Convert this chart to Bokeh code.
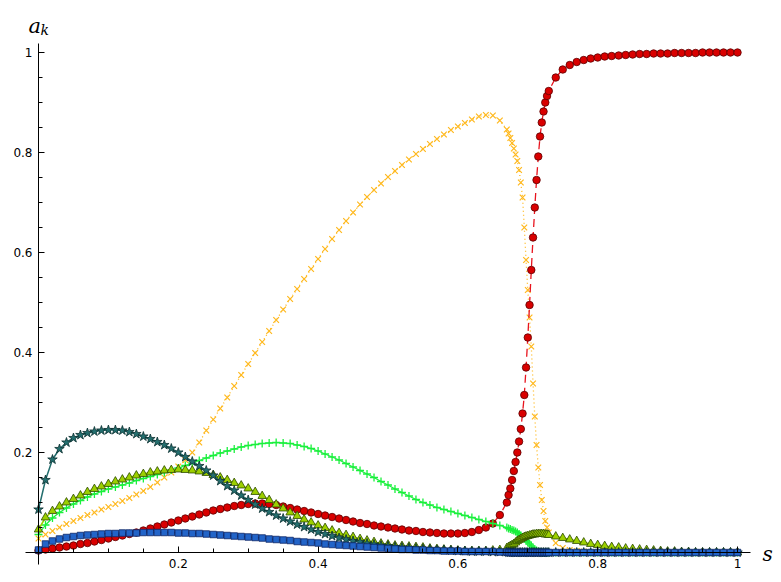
from bokeh.plotting import figure
from bokeh.models import LinearAxis, FixedTicker, NumeralTickFormatter, Range1d, Label
from bokeh.embed import file_html
from bokeh.resources import INLINE

# ---- s grid (x values) ----
s_a = [0.00, 0.01, 0.02, 0.03, 0.04, 0.05, 0.06, 0.07, 0.08, 0.09,
       0.10, 0.11, 0.12, 0.13, 0.14, 0.15, 0.16, 0.17, 0.18, 0.19,
       0.20, 0.21, 0.22, 0.23, 0.24, 0.25, 0.26, 0.27, 0.28, 0.29,
       0.30, 0.31, 0.32, 0.33, 0.34, 0.35, 0.36, 0.37, 0.38, 0.39,
       0.40, 0.41, 0.42, 0.43, 0.44, 0.45, 0.46, 0.47, 0.48, 0.49,
       0.50, 0.51, 0.52, 0.53, 0.54, 0.55, 0.56, 0.57, 0.58, 0.59,
       0.60, 0.61, 0.62, 0.63, 0.64, 0.65, 0.66, 0.67]
s_b = [0.6725, 0.675, 0.6775, 0.68, 0.6825, 0.685, 0.6875, 0.69, 0.6925, 0.695,
       0.6975, 0.70, 0.7025, 0.705, 0.7075, 0.71, 0.7125, 0.715, 0.7175, 0.72,
       0.7225, 0.725, 0.7275]
s_c = [0.73, 0.74, 0.75, 0.76, 0.77, 0.78, 0.79, 0.80, 0.81, 0.82,
       0.83, 0.84, 0.85, 0.86, 0.87, 0.88, 0.89, 0.90, 0.91, 0.92,
       0.93, 0.94, 0.95, 0.96, 0.97, 0.98, 0.99, 1.00]

# ---- series values ----
red_a = [0.004, 0.006, 0.008, 0.010, 0.012, 0.014, 0.017, 0.019, 0.022, 0.025,
         0.028, 0.031, 0.034, 0.037, 0.040, 0.044, 0.048, 0.052, 0.056, 0.060,
         0.064, 0.068, 0.072, 0.076, 0.080, 0.084, 0.087, 0.090, 0.093, 0.095,
         0.097, 0.098, 0.098, 0.097, 0.095, 0.092, 0.089, 0.086, 0.083, 0.080,
         0.077, 0.074, 0.071, 0.068, 0.065, 0.062, 0.059, 0.057, 0.054, 0.052,
         0.050, 0.048, 0.046, 0.044, 0.043, 0.041, 0.040, 0.039, 0.038, 0.038,
         0.038, 0.039, 0.041, 0.045, 0.050, 0.058, 0.075, 0.100]
red_b = [0.115, 0.128, 0.145, 0.163, 0.181, 0.200, 0.222, 0.247, 0.278, 0.315,
         0.370, 0.430, 0.495, 0.565, 0.630, 0.690, 0.745, 0.792, 0.832, 0.860,
         0.882, 0.900, 0.913]
red_c = [0.923, 0.950, 0.966, 0.975, 0.981, 0.985, 0.988, 0.990, 0.992, 0.993,
         0.994, 0.995, 0.996, 0.997, 0.997, 0.998, 0.998, 0.998, 0.999, 0.999,
         0.999, 0.999, 1.000, 1.000, 1.000, 1.000, 1.000, 1.000]

orange_a = [0.028, 0.036, 0.043, 0.050, 0.057, 0.063, 0.069, 0.075, 0.080, 0.086,
            0.091, 0.097, 0.103, 0.109, 0.116, 0.123, 0.131, 0.140, 0.150, 0.160,
            0.172, 0.185, 0.200, 0.220, 0.244, 0.266, 0.288, 0.310, 0.333, 0.355,
            0.377, 0.399, 0.421, 0.443, 0.465, 0.486, 0.507, 0.527, 0.547, 0.567,
            0.587, 0.607, 0.627, 0.645, 0.663, 0.680, 0.696, 0.711, 0.725, 0.738,
            0.751, 0.763, 0.775, 0.786, 0.797, 0.807, 0.817, 0.827, 0.836, 0.845,
            0.852, 0.859, 0.866, 0.872, 0.875, 0.874, 0.864, 0.846]
orange_b = [0.838, 0.829, 0.819, 0.808, 0.796, 0.783, 0.765, 0.740, 0.710, 0.650,
            0.585, 0.525, 0.470, 0.412, 0.338, 0.272, 0.215, 0.170, 0.135, 0.105,
            0.083, 0.063, 0.050]
orange_c = [0.040, 0.019, 0.009, 0.005, 0.003, 0.002, 0.001, 0.001, 0.0, 0.0,
            0.0, 0.0, 0.0, 0.0, 0.0, 0.0, 0.0, 0.0, 0.0, 0.0,
            0.0, 0.0, 0.0, 0.0, 0.0, 0.0, 0.0, 0.0]

green_a = [0.036, 0.055, 0.069, 0.080, 0.089, 0.097, 0.104, 0.111, 0.117, 0.122,
           0.127, 0.131, 0.135, 0.139, 0.144, 0.148, 0.152, 0.156, 0.160, 0.165,
           0.169, 0.174, 0.179, 0.184, 0.189, 0.194, 0.199, 0.203, 0.207, 0.211,
           0.214, 0.216, 0.218, 0.219, 0.220, 0.219, 0.218, 0.215, 0.212, 0.208,
           0.203, 0.197, 0.191, 0.185, 0.178, 0.171, 0.164, 0.157, 0.150, 0.142,
           0.135, 0.127, 0.120, 0.113, 0.106, 0.100, 0.095, 0.090, 0.086, 0.082,
           0.078, 0.074, 0.070, 0.066, 0.062, 0.058, 0.054, 0.050]
green_b = [0.048, 0.047, 0.045, 0.044, 0.042, 0.040, 0.037, 0.034, 0.031, 0.028,
           0.024, 0.021, 0.017, 0.013, 0.009, 0.006, 0.004, 0.002, 0.001, 0.0,
           0.0, 0.0, 0.0]
green_c = [0.0] * 28

olive_a = [0.046, 0.070, 0.083, 0.092, 0.100, 0.107, 0.114, 0.121, 0.127, 0.132,
           0.137, 0.142, 0.146, 0.150, 0.154, 0.157, 0.160, 0.162, 0.164, 0.165,
           0.166, 0.165, 0.164, 0.162, 0.159, 0.155, 0.150, 0.145, 0.139, 0.134,
           0.128, 0.121, 0.113, 0.105, 0.096, 0.088, 0.080, 0.073, 0.066, 0.060,
           0.054, 0.049, 0.044, 0.039, 0.035, 0.031, 0.027, 0.024, 0.021, 0.018,
           0.016, 0.014, 0.013, 0.012, 0.011, 0.010, 0.008, 0.007, 0.006, 0.005,
           0.004, 0.003, 0.003, 0.003, 0.003, 0.004, 0.005, 0.009]
olive_b = [0.011, 0.013, 0.015, 0.017, 0.020, 0.023, 0.025, 0.027, 0.029, 0.031,
           0.032, 0.033, 0.034, 0.035, 0.036, 0.036, 0.037, 0.037, 0.037, 0.037,
           0.037, 0.036, 0.036]
olive_c = [0.035, 0.032, 0.029, 0.026, 0.023, 0.020, 0.017, 0.015, 0.013, 0.011,
           0.010, 0.008, 0.007, 0.006, 0.005, 0.004, 0.003, 0.002, 0.002, 0.001,
           0.001, 0.0, 0.0, 0.0, 0.0, 0.0, 0.0, 0.0]

teal_a = [0.086, 0.145, 0.186, 0.207, 0.220, 0.229, 0.235, 0.239, 0.242, 0.244,
          0.245, 0.245, 0.244, 0.241, 0.237, 0.232, 0.227, 0.221, 0.215, 0.208,
          0.200, 0.191, 0.182, 0.173, 0.164, 0.154, 0.143, 0.133, 0.124, 0.114,
          0.105, 0.096, 0.088, 0.081, 0.074, 0.068, 0.062, 0.056, 0.051, 0.046,
          0.041, 0.037, 0.033, 0.029, 0.026, 0.023, 0.021, 0.018, 0.016, 0.014,
          0.013, 0.011, 0.010, 0.009, 0.008, 0.007, 0.006, 0.005, 0.005, 0.004,
          0.003, 0.003, 0.002, 0.002, 0.002, 0.001, 0.001, 0.001]
teal_b = [0.0] * 23
teal_c = [0.0] * 28

blue_a = [0.005, 0.017, 0.023, 0.027, 0.030, 0.032, 0.034, 0.035, 0.036, 0.037,
          0.038, 0.038, 0.039, 0.039, 0.039, 0.040, 0.040, 0.040, 0.040, 0.040,
          0.039, 0.039, 0.038, 0.038, 0.037, 0.036, 0.035, 0.034, 0.033, 0.032,
          0.031, 0.030, 0.029, 0.027, 0.026, 0.025, 0.024, 0.022, 0.021, 0.020,
          0.019, 0.017, 0.016, 0.015, 0.014, 0.013, 0.012, 0.011, 0.010, 0.009,
          0.008, 0.007, 0.006, 0.006, 0.005, 0.005, 0.004, 0.004, 0.003, 0.003,
          0.003, 0.002, 0.002, 0.002, 0.002, 0.002, 0.001, 0.001]
blue_b = [0.0] * 23
blue_c = [0.0] * 28

x_ticks = [0.2, 0.4, 0.6, 0.8, 1.0]
y_ticks = [0.2, 0.4, 0.6, 0.8, 1.0]
minor = [0.05, 0.1, 0.15, 0.25, 0.3, 0.35, 0.45, 0.5, 0.55, 0.65, 0.7, 0.75,
         0.85, 0.9, 0.95]

S = s_a + s_b + s_c
series = {
    "orange": orange_a + orange_b + orange_c,
    "red": red_a + red_b + red_c,
    "green": green_a + green_b + green_c,
    "olive": olive_a + olive_b + olive_c,
    "teal": teal_a + teal_b + teal_c,
    "blue": blue_a + blue_b + blue_c,
}
for k, v in series.items():
    assert len(v) == len(S), (k, len(v), len(S))

p = figure(width=773, height=574, output_backend="svg", toolbar_location=None,
           x_range=Range1d(-0.054363, 1.051502), y_range=Range1d(-0.044, 1.104),
           x_axis_location=None, y_axis_location=None, min_border=0,
           outline_line_color=None, background_fill_color="white",
           border_fill_color="white")
p.grid.visible = False

ORANGE = "#ffb81c"
RED_F = "#d90000"
RED_E = "#5a0000"
GREEN = "#19f03c"
OLIVE_F = "#9ccf00"
OLIVE_E = "#2c4a00"
TEAL_F = "#236e6e"
TEAL_E = "#0b3030"
BLUE_F = "#2264c8"
BLUE_E = "#0b2466"

# orange x markers with dotted line
p.line(S, series["orange"], line_color=ORANGE, line_dash="1 3", line_width=1.3)
p.scatter(S, series["orange"], marker="x", size=8, line_color=ORANGE, line_width=1.2)

# red circles with dashed line
p.line(S, series["red"], line_color="#e8141e", line_dash="8 5", line_width=1.3)
p.scatter(S, series["red"], marker="circle", size=7.5, fill_color=RED_F,
          line_color=RED_E, line_width=0.8)

# green plus markers
p.line(S, series["green"], line_color=GREEN, line_width=1.2)
p.scatter(S, series["green"], marker="cross", size=8, line_color=GREEN, line_width=1.3)

# olive triangles
p.line(S, series["olive"], line_color=OLIVE_F, line_width=1.5)
p.scatter(S, series["olive"], marker="triangle", size=8.5, fill_color=OLIVE_F,
          line_color=OLIVE_E, line_width=0.8)

# teal stars
p.line(S, series["teal"], line_color=TEAL_F, line_width=1.5)
p.scatter(S, series["teal"], marker="star", size=10, fill_color=TEAL_F,
          line_color=TEAL_E, line_width=0.8)

# blue squares
p.line(S, series["blue"], line_color=BLUE_F, line_width=1.5)
p.scatter(S, series["blue"], marker="square", size=6.5, fill_color=BLUE_F,
          line_color=BLUE_E, line_width=0.8)

axis_style = dict(fixed_location=0, formatter=NumeralTickFormatter(format="0.[0]"),
                  major_tick_in=6, major_tick_out=0, minor_tick_in=4, minor_tick_out=0,
                  axis_line_color="black", axis_line_width=1,
                  major_tick_line_color="black", minor_tick_line_color="black",
                  major_label_text_font="DejaVu Sans", major_label_text_font_size="12px",
                  major_label_text_color="black", major_label_standoff=6)

xaxis = LinearAxis(bounds=(-0.0186, 1.0186),
                   ticker=FixedTicker(ticks=x_ticks, minor_ticks=minor), **axis_style)
yaxis = LinearAxis(bounds=(-0.024, 1.018),
                   ticker=FixedTicker(ticks=y_ticks, minor_ticks=minor), **axis_style)
p.add_layout(xaxis, "below")
p.add_layout(yaxis, "left")

p.add_layout(Label(x=-0.0143, y=1.054, text="a", text_font="DejaVu Serif",
                   text_font_style="italic", text_font_size="21px",
                   text_baseline="alphabetic", text_align="left", text_color="black"))
p.add_layout(Label(x=0.0029, y=1.046, text="k", text_font="DejaVu Serif",
                   text_font_style="italic", text_font_size="14px",
                   text_baseline="alphabetic", text_align="left", text_color="black"))
p.add_layout(Label(x=1.0358, y=-0.002, text="s", text_font="DejaVu Serif",
                   text_font_style="italic", text_font_size="20px",
                   text_baseline="alphabetic", text_align="left", text_color="black"))

open("out.html", "w").write(file_html(p, INLINE))
